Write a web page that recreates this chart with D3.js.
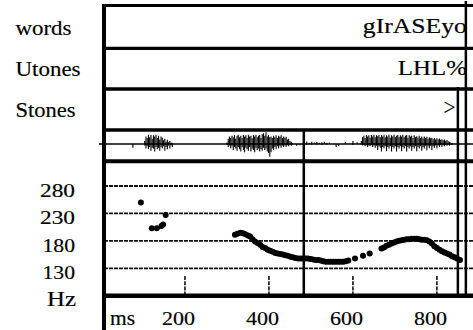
<!DOCTYPE html>
<html>
<head>
<meta charset="utf-8">
<script src="https://cdn.jsdelivr.net/npm/d3@7"></script>
<style>
  html, body { margin: 0; padding: 0; background: #fff; }
  svg { display: block; }
</style>
</head>
<body>
<script>
// ---- tiers -------------------------------------------------------------
const tierNames  = ["words", "Utones", "Stones"];
const tierLabels = ["gIrASEyo", "LHL%", ">"];

// ---- axes --------------------------------------------------------------
const pitchTicks = [280, 230, 180, 130];   // Hz
const timeTicks  = [200, 400, 600, 800];   // ms
const boundaryMs  = 483;                   // word boundary through signal + f0
const stoneMarkMs = 850;                   // stone tier marker
const endMs       = 869;                   // end of the utterance

// ---- f0 track: [ms, Hz] ------------------------------------------------
const pitchTrack = [
  [95,250],[121,203],[133,203],[144,207],[148,210],[154,227],
  [319,191],[325,193],[332,195],[338,194],[344,192],[350,190],[355,188],[361,183],
  [367,179],[373,176],[379,173],[385,169],[391,167],[397,164],[403,162],[409,160],
  [415,158],[421,157],[427,156],[433,155],[439,154],[445,153],[451,151],[457,150],
  [463,149],[469,148],[475,148],[481,148],[487,148],[493,148],[499,147],[505,146],
  [511,145],[517,145],[523,144],[529,143],[535,142],[541,142],[547,142],[553,142],
  [559,142],[565,142],[571,142],[577,142],[583,143],[589,144],
  [605,148],[624,153],[640,157],
  [668,166],[674,168],[680,171],[686,173],[692,175],[698,177],[704,179],[710,180],
  [716,181],[722,182],[728,183],[734,183],[740,184],[746,184],[752,184],[758,183],
  [764,182],[770,182],[776,181],[782,179],[788,175],[794,170],[800,167],[806,164],
  [812,161],[818,159],[824,157],[830,155],[836,152],[842,150],[848,148],[855,145]
];

// ---- speech signal, min/max per column: [ms, min, max] -----------------
const waveform = [
  [76,-0.25,0],
  [104,-0.1,0.2],[107,-0.3,0.5],[110,-0.15,0.4],[113,-0.35,0.62],[116,-0.2,0.45],
  [119,-0.45,0.6],[122,-0.25,0.35],[125,-0.3,0.58],[128,-0.5,0.5],[131,-0.2,0.62],
  [134,-0.35,0.4],[137,-0.25,0.55],[140,-0.45,0.3],[143,-0.2,0.5],[146,-0.3,0.42],
  [149,-0.15,0.25],[152,-0.45,0.35],[155,-0.2,0.15],[158,-0.35,0.28],[161,-0.1,0.12],
  [164,-0.3,0.2],[167,-0.1,0.1],[170,-0.2,0.05],
  [300,-0.05,0.1],[303,-0.2,0.35],[306,-0.1,0.5],[309,-0.3,0.4],[312,-0.15,0.55],
  [315,-0.4,0.45],[318,-0.2,0.6],[321,-0.3,0.35],[324,-0.45,0.55],[327,-0.2,0.62],
  [330,-0.35,0.45],[333,-0.5,0.55],[336,-0.2,0.4],[339,-0.4,0.6],[342,-0.55,0.5],
  [345,-0.25,0.58],[348,-0.35,0.4],[351,-0.45,0.62],[354,-0.2,0.5],[357,-0.5,0.55],
  [360,-0.3,0.38],[363,-0.4,0.6],[366,-0.55,0.5],[369,-0.25,0.62],[372,-0.4,0.45],
  [375,-0.3,0.55],[378,-0.5,0.6],[381,-0.35,0.4],[384,-0.45,0.65],[387,-0.25,0.72],
  [390,-0.4,0.55],[393,-0.3,0.78],[396,-0.5,0.5],[399,-0.6,0.6],[402,-0.85,0.45],
  [405,-0.55,0.5],[408,-0.3,0.4],[411,-0.4,0.55],[414,-0.2,0.45],[417,-0.35,0.58],
  [420,-0.15,0.4],[423,-0.3,0.55],[426,-0.12,0.48],[429,-0.25,0.58],[432,-0.1,0.4],
  [435,-0.2,0.5],[438,-0.1,0.42],[441,-0.18,0.48],[444,-0.08,0.3],[447,-0.15,0.35],
  [450,-0.05,0.2],[453,-0.12,0.15],[456,-0.03,0.06],
  [466,-0.12,0],[474,-0.08,0],
  [484,0,0.12],[490,-0.05,0.16],[496,0,0.08],[502,-0.05,0.15],[508,0,0.1],
  [514,-0.04,0.14],[520,0,0.08],[526,-0.05,0.12],[532,0,0.15],[538,-0.05,0.08],
  [544,0,0.1],[560,-0.2,0],[566,-0.15,0],[582,0,0.15],[600,-0.05,0.2],[610,0,0.12],
  [620,-0.05,0.2],[623,-0.1,0.45],[626,-0.05,0.55],[629,-0.15,0.4],[632,-0.08,0.6],
  [635,-0.2,0.5],[638,-0.1,0.58],[641,-0.15,0.42],[644,-0.08,0.6],[647,-0.2,0.5],
  [650,-0.1,0.62],[653,-0.25,0.45],[656,-0.12,0.58],[659,-0.4,0.52],[662,-0.15,0.6],
  [665,-0.25,0.45],[668,-0.5,0.6],[671,-0.2,0.5],[674,-0.3,0.62],[677,-0.15,0.45],
  [680,-0.48,0.58],[683,-0.2,0.5],[686,-0.3,0.62],[689,-0.15,0.42],[692,-0.5,0.58],
  [695,-0.2,0.5],[698,-0.3,0.62],[701,-0.15,0.45],[704,-0.5,0.55],[707,-0.2,0.6],
  [710,-0.3,0.45],[713,-0.15,0.58],[716,-0.48,0.5],[719,-0.2,0.62],[722,-0.3,0.45],
  [725,-0.15,0.55],[728,-0.5,0.6],[731,-0.2,0.42],[734,-0.3,0.58],[737,-0.15,0.5],
  [740,-0.45,0.55],[743,-0.2,0.4],[746,-0.3,0.58],[749,-0.15,0.45],[752,-0.48,0.52],
  [755,-0.2,0.42],[758,-0.3,0.55],[761,-0.15,0.4],[764,-0.45,0.5],[767,-0.2,0.38],
  [770,-0.3,0.5],[773,-0.12,0.4],[776,-0.42,0.48],[779,-0.15,0.35],[782,-0.28,0.45],
  [785,-0.12,0.38],[788,-0.4,0.42],[791,-0.15,0.32],[794,-0.25,0.4],[797,-0.1,0.3],
  [800,-0.3,0.38],[803,-0.1,0.3],[806,-0.2,0.36],[809,-0.08,0.28],[812,-0.18,0.32],
  [815,-0.08,0.25],[818,-0.15,0.3],[821,-0.05,0.22],[824,-0.12,0.26],[827,-0.05,0.18],
  [830,-0.1,0.15],[833,-0.03,0.1],[836,-0.06,0.06]
];

// ---- layout ------------------------------------------------------------
const W = 473, H = 330;
const frameLeft = 104;
const rowLines = [5.5, 48.3, 89, 130, 161.3, 295.8];   // horizontal rules
const rowWidths = [3, 3.3, 3.3, 3.7, 4, 4.5];
const FONT = "'Liberation Serif', 'Times New Roman', serif";

const svg = d3.select("body").append("svg")
  .attr("width", W).attr("height", H)
  .style("background", "#fff");

const x  = d3.scaleLinear().domain([0, 886]).range([101, 473]);
const yP = d3.scaleLinear().domain([130, 280]).range([268.3, 186]);
const yW = d3.scaleLinear().domain([-1, 1]).range([159, 129]);

function label(txt, px, py, anchor, len, size) {
  return svg.append("text")
    .attr("x", px).attr("y", py)
    .attr("text-anchor", anchor)
    .attr("font-family", FONT)
    .attr("font-size", size)
    .attr("textLength", len)
    .attr("lengthAdjust", "spacingAndGlyphs")
    .attr("fill", "#000")
    .attr("stroke", "#000")
    .attr("stroke-width", 0.18)
    .text(txt);
}

// ---- f0 grid lines ---------------------------------------------------
svg.append("g").selectAll("line").data(pitchTicks).join("line")
  .attr("x1", frameLeft).attr("x2", W)
  .attr("y1", d => yP(d)).attr("y2", d => yP(d))
  .attr("stroke", "#111").attr("stroke-width", 1.8)
  .attr("stroke-dasharray", "4,1");

// time ticks inside the f0 panel
svg.append("g").selectAll("line").data(timeTicks).join("line")
  .attr("x1", d => x(d)).attr("x2", d => x(d))
  .attr("y1", 276).attr("y2", 294)
  .attr("stroke", "#111").attr("stroke-width", 1.6)
  .attr("stroke-dasharray", "4,1.2");

// ---- speech signal ---------------------------------------------------
svg.append("line")
  .attr("x1", frameLeft - 5).attr("x2", W)
  .attr("y1", yW(0)).attr("y2", yW(0))
  .attr("stroke", "#000").attr("stroke-width", 1.6);

svg.append("g").selectAll("line").data(waveform).join("line")
  .attr("x1", d => x(d[0])).attr("x2", d => x(d[0]))
  .attr("y1", d => yW(d[1])).attr("y2", d => yW(d[2]))
  .attr("stroke", "#000").attr("stroke-width", 1.1);

// ---- f0 points -------------------------------------------------------
svg.append("g").selectAll("circle").data(pitchTrack).join("circle")
  .attr("cx", d => x(d[0])).attr("cy", d => yP(d[1]))
  .attr("r", 3).attr("fill", "#000");

// ---- frame -----------------------------------------------------------
svg.append("g").selectAll("line").data(rowLines).join("line")
  .attr("x1", frameLeft - 2).attr("x2", W)
  .attr("y1", d => d).attr("y2", d => d)
  .attr("stroke", "#000").attr("stroke-width", (d, i) => rowWidths[i]);

svg.append("line")
  .attr("x1", frameLeft).attr("x2", frameLeft)
  .attr("y1", rowLines[0] - 1.5).attr("y2", H)
  .attr("stroke", "#000").attr("stroke-width", 4);

svg.append("line")
  .attr("x1", x(boundaryMs)).attr("x2", x(boundaryMs))
  .attr("y1", rowLines[3]).attr("y2", rowLines[5] + 1)
  .attr("stroke", "#000").attr("stroke-width", 2.5);

svg.append("line")
  .attr("x1", x(stoneMarkMs)).attr("x2", x(stoneMarkMs))
  .attr("y1", rowLines[2] - 2).attr("y2", rowLines[5] + 2)
  .attr("stroke", "#000").attr("stroke-width", 2.5);

svg.append("line")
  .attr("x1", x(endMs)).attr("x2", x(endMs))
  .attr("y1", 1).attr("y2", rowLines[5] + 2)
  .attr("stroke", "#000").attr("stroke-width", 2.5);

// ---- tier names and labels -------------------------------------------
const nameBase = [35, 76, 117];
const nameLen  = [56, 65, 60];
tierNames.forEach((t, i) => label(t, 15.5, nameBase[i], "start", nameLen[i], 21));

label(tierLabels[0], x(endMs) + 1, 33.3, "end", 104, 21);
label(tierLabels[1], x(endMs) + 1, 75, "end", 69, 21);
label(tierLabels[2], x(stoneMarkMs) - 2.5, 115, "end", 12, 24);

// f0 axis labels
pitchTicks.forEach(v => label(String(v), 75, yP(v) + 10.8, "end", v === 280 || v === 230 ? 35 : 32.5, 19));
label("Hz", 76, 305.5, "end", 29, 20);

// time axis labels
label("ms", 110, 325, "start", 25, 20);
timeTicks.forEach(t => label(String(t), x(t) - 6.5, 325, "middle", 33, 19));
</script>
</body>
</html>
